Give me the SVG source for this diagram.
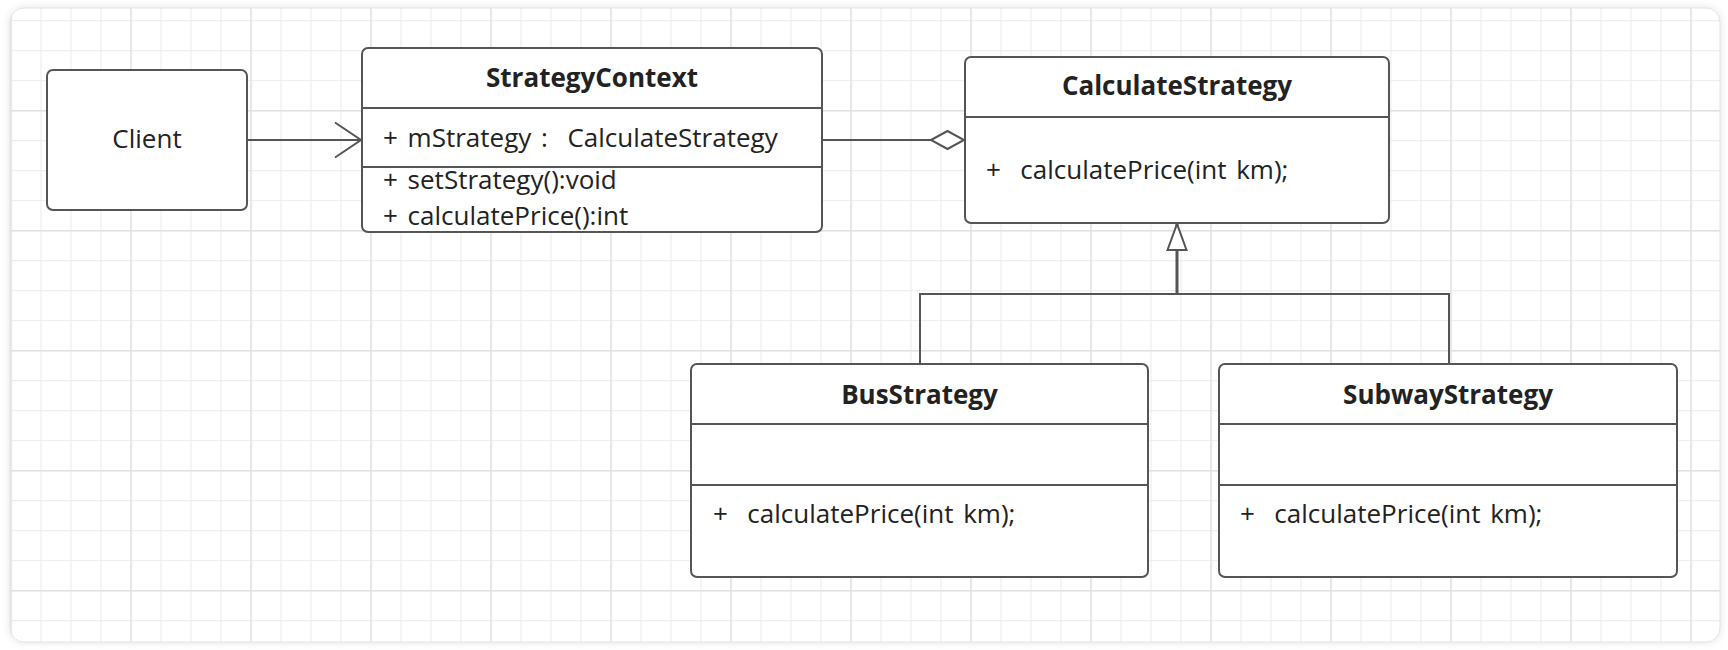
<svg xmlns="http://www.w3.org/2000/svg" width="1728" height="650" viewBox="0 0 1728 650">
  <style>
    .box { fill: #ffffff; stroke: #555555; stroke-width: 2; }
    .div { stroke: #555555; stroke-width: 2; }
    .txt { font-family: "Open Sans", "Noto Sans", sans-serif; font-size: 26px; fill: #222222; white-space: pre; word-spacing: 3px; }
    .title { font-weight: bold; text-anchor: middle; word-spacing: 0; }
    .conn { fill: none; stroke: #555555; stroke-width: 2; }
    .stem { fill: none; stroke: #555555; stroke-width: 3; }
  </style>
  <defs>
    <filter id="shadow" x="-5%" y="-5%" width="110%" height="110%">
      <feDropShadow dx="0" dy="0" stdDeviation="4" flood-color="#000000" flood-opacity="0.12"/>
    </filter>
    <clipPath id="cardClip">
      <rect x="10" y="8" width="1710" height="634" rx="14"/>
    </clipPath>
    <pattern id="minor" patternUnits="userSpaceOnUse" x="10.5" y="20.2" width="30" height="30">
      <path d="M0.5 0 V30 M0 0.5 H30" fill="none" stroke="#ebebeb" stroke-width="1"/>
    </pattern>
    <pattern id="major" patternUnits="userSpaceOnUse" x="10.3" y="110" width="120" height="120">
      <path d="M0.7 0 V120 M0 0.7 H120" fill="none" stroke="#e0e0e0" stroke-width="1.4"/>
    </pattern>
    <marker id="openArrow" markerUnits="userSpaceOnUse" viewBox="-2 -2 30 39" refX="26" refY="17.5" markerWidth="30" markerHeight="39" orient="auto" overflow="visible">
      <path d="M0 0 L26 17.5 L0 35" fill="none" stroke="#555555" stroke-width="2"/>
    </marker>
    <marker id="diamond" markerUnits="userSpaceOnUse" viewBox="-2 -2 37 22" refX="33" refY="9" markerWidth="37" markerHeight="22" orient="auto" overflow="visible">
      <path d="M0 9 L16.5 0 L33 9 L16.5 18 Z" fill="#ffffff" stroke="#555555" stroke-width="2"/>
    </marker>
    <marker id="triangle" markerUnits="userSpaceOnUse" viewBox="-2 -2 30 23" refX="26" refY="9.5" markerWidth="30" markerHeight="23" orient="auto" overflow="visible">
      <path d="M0 0 L26 9.5 L0 19 Z" fill="#ffffff" stroke="#555555" stroke-width="2"/>
    </marker>
  </defs>

  <rect x="0" y="0" width="1728" height="650" fill="#ffffff"/>
  <g id="card">
    <rect x="10" y="8" width="1710" height="634" rx="14" fill="#ffffff" filter="url(#shadow)"/>
    <g clip-path="url(#cardClip)">
      <rect x="10" y="8" width="1710" height="634" fill="url(#minor)"/>
      <rect x="10" y="8" width="1710" height="634" fill="url(#major)"/>
    </g>
    <rect x="10" y="8" width="1710" height="634" rx="14" fill="none" stroke="#e4e4e4" stroke-width="1"/>
  </g>

  <g id="connectors">
    <path class="conn" d="M247 140 H361" marker-end="url(#openArrow)"/>
    <path class="conn" d="M822 140 H964" marker-end="url(#diamond)"/>
    <path class="conn" d="M920 364 V294 H1177"/>
    <path class="conn" d="M1449 364 V294 H1177"/>
    <path class="stem" d="M1177 295 V224" marker-end="url(#triangle)"/>
  </g>

  <g id="client">
    <rect class="box" x="47" y="70" width="200" height="140" rx="6"/>
    <text class="txt" x="147" y="148" text-anchor="middle">Client</text>
  </g>

  <g id="strategyContext">
    <rect class="box" x="362" y="48" width="460" height="184" rx="6"/>
    <line class="div" x1="362" y1="108" x2="822" y2="108"/>
    <line class="div" x1="362" y1="167" x2="822" y2="167"/>
    <text class="txt title" x="592" y="87">StrategyContext</text>
    <text class="txt" x="383" y="147">+ mStrategy :  CalculateStrategy</text>
    <text class="txt" x="383" y="189">+ setStrategy():void</text>
    <text class="txt" x="383" y="225">+ calculatePrice():int</text>
  </g>

  <g id="calculateStrategy">
    <rect class="box" x="965" y="57" width="424" height="166" rx="6"/>
    <line class="div" x1="965" y1="117" x2="1389" y2="117"/>
    <text class="txt title" x="1177" y="95">CalculateStrategy</text>
    <text class="txt" x="986" y="179">+  calculatePrice(int km);</text>
  </g>

  <g id="busStrategy">
    <rect class="box" x="691" y="364" width="457" height="213" rx="6"/>
    <line class="div" x1="691" y1="424" x2="1148" y2="424"/>
    <line class="div" x1="691" y1="485" x2="1148" y2="485"/>
    <text class="txt title" x="919.5" y="404">BusStrategy</text>
    <text class="txt" x="713" y="523">+  calculatePrice(int km);</text>
  </g>

  <g id="subwayStrategy">
    <rect class="box" x="1219" y="364" width="458" height="213" rx="6"/>
    <line class="div" x1="1219" y1="424" x2="1677" y2="424"/>
    <line class="div" x1="1219" y1="485" x2="1677" y2="485"/>
    <text class="txt title" x="1448" y="404">SubwayStrategy</text>
    <text class="txt" x="1240" y="523">+  calculatePrice(int km);</text>
  </g>
</svg>
